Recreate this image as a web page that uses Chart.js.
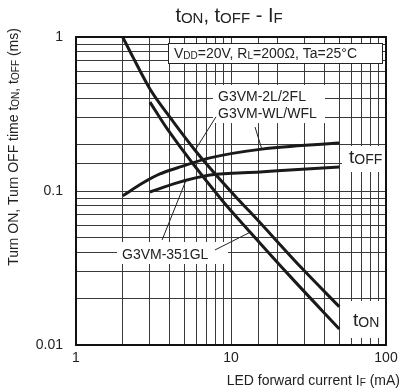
<!DOCTYPE html>
<html>
<head>
<meta charset="utf-8">
<script src="https://cdn.jsdelivr.net/npm/chart.js@4/dist/chart.umd.min.js"></script>
<style>
  html, body { margin: 0; padding: 0; background: #fff; }
  canvas { display: block; }
</style>
</head>
<body>
<canvas id="c" width="403" height="392"></canvas>
<script>
// Turn-on time, first curve (G3VM-2L/2FL, G3VM-WL/WFL)
const onCurrentA = [2, 2.33, 3, 3.86, 6.04, 10.9, 13.3, 29.1, 50];
const onTimeA    = [1.0, 0.74, 0.46, 0.32, 0.177, 0.09, 0.073, 0.031, 0.0177];
// Turn-on time, second curve (G3VM-351GL)
const onCurrentB = [3, 3.92, 8.75, 13.3, 24, 50];
const onTimeB    = [0.378, 0.249, 0.087, 0.054, 0.028, 0.0127];
// Turn-off time, first curve (G3VM-2L/2FL, G3VM-WL/WFL)
const offCurrentC = [2, 2.71, 3.48, 4.48, 7.32, 15.8, 50];
const offTimeC    = [0.093, 0.113, 0.129, 0.141, 0.164, 0.187, 0.205];
// Turn-off time, second curve (G3VM-351GL)
const offCurrentD = [3, 4.48, 7.32, 15.4, 24, 50];
const offTimeD    = [0.0985, 0.113, 0.127, 0.133, 0.137, 0.143];

const xTickLabels = ['1', '10', '100'];
const yTickLabels = ['0.01', '0.1', '1'];

const FONT = '"Liberation Sans", Arial, Helvetica, sans-serif';
const INK = '#222';

Chart.defaults.font.family = FONT;
Chart.defaults.font.size = 14;
Chart.defaults.color = INK;

function pts(xs, ys) { return xs.map((x, i) => ({ x, y: ys[i] })); }

function decadeLabel(v, labels) {
  const l = Math.log10(v);
  if (Math.abs(l - Math.round(l)) > 1e-6) return '';
  return labels.find(s => Math.abs(parseFloat(s) - v) < v * 1e-6) || '';
}

// Text with smaller subscript runs: parts = [[text, isSub], ...]
function richText(ctx, parts, x, y, align, size, subSize) {
  const main = size + 'px ' + FONT, sub = subSize + 'px ' + FONT;
  let w = 0;
  parts.forEach(([t, s]) => { ctx.font = s ? sub : main; w += ctx.measureText(t).width; });
  let cx = align === 'right' ? x - w : align === 'center' ? x - w / 2 : x;
  ctx.textAlign = 'left';
  ctx.textBaseline = 'alphabetic';
  ctx.fillStyle = INK;
  parts.forEach(([t, s]) => {
    ctx.font = s ? sub : main;
    ctx.fillText(t, cx, y + (s ? 1 : 0));
    cx += ctx.measureText(t).width;
  });
}

const curveStyle = {
  borderColor: '#1a1a1a', borderWidth: 3, pointRadius: 0,
  fill: false, cubicInterpolationMode: 'monotone'
};

// Labels, leader lines and frame drawn on top of the grid
const notes = {
  id: 'notes',
  beforeDatasetsDraw(chart) {
    const { ctx } = chart;
    const xs = chart.scales.x, ys = chart.scales.y;
    const P = (i, t) => [xs.getPixelForValue(i), ys.getPixelForValue(t)];
    ctx.save();
    ctx.fillStyle = '#fff';
    // white patches behind labels
    ctx.fillRect(213, 85, 112, 38);
    ctx.fillRect(117, 242, 111, 22);
    ctx.fillRect(342, 146, 43, 26);
    ctx.fillRect(344, 301, 41, 37);
    // condition box
    ctx.fillRect(168, 43, 214, 20);
    ctx.strokeStyle = INK;
    ctx.lineWidth = 1;
    ctx.strokeRect(168.5, 43.5, 214, 20);

    // leader lines (data coordinates)
    const leaders = [
      [[8.0, 0.303], [5.9, 0.186]],
      [[14.3, 0.26], [15.8, 0.187]],
      [[3.59, 0.048], [5.12, 0.117]],
      [[7.88, 0.0414], [13.3, 0.054]]
    ];
    ctx.lineWidth = 1;
    ctx.strokeStyle = INK;
    leaders.forEach(([a, b]) => {
      const p = P(a[0], a[1]), q = P(b[0], b[1]);
      ctx.beginPath();
      ctx.moveTo(p[0], p[1]);
      ctx.lineTo(q[0], q[1]);
      ctx.stroke();
    });

    richText(ctx, [['V', false], ['DD', true], ['=20V, R', false], ['L', true], ['=200\u03A9, Ta=25\u00B0C', false]], 174, 58, 'left', 14, 10);
    richText(ctx, [['G3VM-2L/2FL', false]], 218, 101, 'left', 14, 10);
    richText(ctx, [['G3VM-WL/WFL', false]], 218, 118, 'left', 14, 10);
    richText(ctx, [['G3VM-351GL', false]], 122, 259, 'left', 14, 10);
    richText(ctx, [['t', false], ['OFF', true]], 349, 163, 'left', 19, 14);
    richText(ctx, [['t', false], ['ON', true]], 353, 326, 'left', 19, 14);
    ctx.restore();
  },
  afterDraw(chart) {
    const { ctx, chartArea: a } = chart;
    ctx.save();
    ctx.strokeStyle = '#111';
    ctx.lineWidth = 2;
    ctx.strokeRect(a.left, a.top, a.right - a.left, a.bottom - a.top);

    // title
    richText(ctx, [['t', false], ['ON', true], [', t', false], ['OFF', true], [' - I', false], ['F', true]], 229, 22, 'center', 20, 15);
    // x-axis title
    richText(ctx, [['LED forward current I', false], ['F', true], [' (mA)', false]], 400, 385, 'right', 14, 10);
    // y-axis title
    ctx.translate(18, 147);
    ctx.rotate(-Math.PI / 2);
    richText(ctx, [['Turn ON, Turn OFF time t', false], ['ON', true], [', t', false], ['OFF', true], [' (ms)', false]], 0, 0, 'center', 14, 10);
    ctx.restore();
  }
};

new Chart(document.getElementById('c'), {
  type: 'line',
  data: {
    datasets: [
      Object.assign({ label: 'tON 2L/WL', data: pts(onCurrentA, onTimeA) }, curveStyle),
      Object.assign({ label: 'tON 351GL', data: pts(onCurrentB, onTimeB) }, curveStyle),
      Object.assign({ label: 'tOFF 2L/WL', data: pts(offCurrentC, offTimeC) }, curveStyle),
      Object.assign({ label: 'tOFF 351GL', data: pts(offCurrentD, offTimeD) }, curveStyle)
    ]
  },
  options: {
    responsive: false,
    animation: false,
    layout: { padding: { top: 37, right: 17, left: 0, bottom: 0 } },
    plugins: { legend: { display: false }, tooltip: { enabled: false }, title: { display: false } },
    scales: {
      x: {
        type: 'logarithmic', min: 1, max: 100,
        afterFit(s) { s.height = 47; },
        grid: { color: '#3a3a3a', lineWidth: 1, drawTicks: false },
        border: { display: false },
        ticks: {
          autoSkip: false, maxRotation: 0, padding: 5,
          callback: v => decadeLabel(v, xTickLabels)
        }
      },
      y: {
        type: 'logarithmic', min: 0.01, max: 1,
        afterFit(s) { s.width = 76; },
        grid: { color: '#3a3a3a', lineWidth: 1, drawTicks: false },
        border: { display: false },
        ticks: {
          autoSkip: false, padding: 13,
          callback: v => decadeLabel(v, yTickLabels)
        }
      }
    }
  },
  plugins: [notes]
});
</script>
</body>
</html>
